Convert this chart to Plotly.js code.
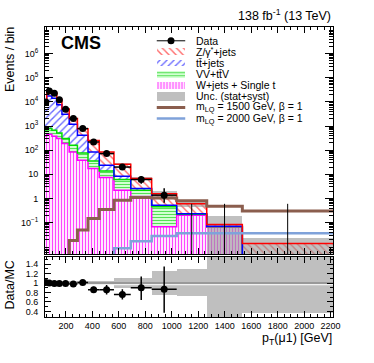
<!DOCTYPE html>
<html><head><meta charset="utf-8">
<script src="https://cdn.plot.ly/plotly-3.0.1.min.js"></script>
<style>html,body{margin:0;padding:0;background:#fff}#chart{width:374px;height:363px}</style>
</head><body><div id="chart"></div>
<script>
// ---- data ----
const binEdges = [42, 55, 94, 131, 170, 225, 287, 367, 452, 563, 690, 848, 1037, 1264, 1533, 2218];
const dataCounts = [9800, 28000, 23000, 12300, 5000, 2030, 785, 218, 72, 20, 6.1, 1.37, 0, 0, 0];
const dataErrUp  = [100, 170, 150, 110, 70, 45, 28, 15, 8.5, 4.5, 2.5, 1.25, 0.6, 0.6, 0.6];
const dataErrDn  = [100, 170, 150, 110, 70, 45, 28, 15, 8.5, 4.5, 2.0, 0.7, 0, 0, 0];
const wjetsSingleT = [394, 454, 375, 301, 187, 84, 38.3, 17.4, 7.4, 2.2, 1.21, 0.067, 0.204, 0.065, 0];
const vvTtv        = [303, 327, 289, 213, 114, 75, 38.3, 18.4, 6.4, 3.9, 0.99, 0.383, 0.02, 0.002, 0];
const ttJets       = [7190, 16900, 13290, 7010, 2740, 1016, 336, 48.5, 10.0, 2.25, 0.39, 0.078, 0.011, 0.003, 0];
const zJets        = [1810, 10300, 9250, 4890, 2010, 895, 364, 169, 60, 17.6, 4.2, 1.04, 0.375, 0.013, 0.0138];
const uncRelUp = [0.04, 0.04, 0.04, 0.04, 0.04, 0.04, 0.04, 0.04, 0.05, 0.1, 0.1, 0.25, 0.29, 1.25, 0.6];
const uncRelDn = [0.04, 0.04, 0.04, 0.04, 0.04, 0.04, 0.04, 0.04, 0.05, 0.1, 0.1, 0.25, 0.28, 0.95, 0.63];
const lq1500 = [0, 0, 0, 0, 0, 0.018, 0.049, 0.149, 0.351, 0.85, 1.1, 1.05, 0.80, 0.48, 0.30];
const lq2000 = [0, 0, 0, 0, 0, 0, 0, 0, 0, 0.0087, 0.017, 0.028, 0.036, 0.036, 0.036];
const ratioVals  = [1.01, 1.0, 0.99, 0.99, 0.99, 0.98, 1.01, 0.86, 0.86, 0.76, 0.90, 0.87];
const ratioErrUp = [0.01, 0.01, 0.01, 0.01, 0.015, 0.02, 0.035, 0.06, 0.1, 0.11, 0.24, 0.48];
const ratioErrDn = [0.01, 0.01, 0.01, 0.01, 0.015, 0.02, 0.035, 0.06, 0.1, 0.11, 0.26, 0.50];
const xRange = [42, 2218];
const legendLabels = ['Data', 'Z/γ<sup>*</sup>+jets', 'tt\u0304+jets', 'VV+tt\u0304V', 'W+jets + Single t',
                      'Unc. (stat+syst)', 'm<sub>LQ</sub> = 1500 GeV, β = 1', 'm<sub>LQ</sub> = 2000 GeV, β = 1'];

// ---- derived ----
const nb = dataCounts.length;
const centers = [], widths = [], halfW = [];
for (let i = 0; i < nb; i++) {
  centers.push((binEdges[i] + binEdges[i+1]) / 2);
  widths.push(binEdges[i+1] - binEdges[i]);
  halfW.push((binEdges[i+1] - binEdges[i]) / 2);
}
const tiny = 1e-5;
const cumW = wjetsSingleT.slice();
const cumV = cumW.map((v, i) => v + vvTtv[i]);
const cumT = cumV.map((v, i) => v + ttJets[i]);
const cumZ = cumT.map((v, i) => v + zJets[i]);
function stepY(arr) { const a = arr.map(v => v > 0 ? v : tiny); a.push(a[a.length-1]); return a; }

const traces = [];
function stackBar(vals, base, pat, name) {
  const t = {type:'bar', x:centers, y:vals, width:widths, xaxis:'x', yaxis:'y', hoverinfo:'skip',
    marker:{color:'white', line:{width:0}, pattern:pat}, name:name};
  if (base) t.base = base;
  return t;
}
const patW = {shape:'|', fgcolor:'#ff44ff', bgcolor:'white', size:3, solidity:0.42, fillmode:'replace'};
const patV = {shape:'-', fgcolor:'#55e055', bgcolor:'#d2ffd2', size:3, solidity:0.35, fillmode:'replace'};
const patT = {shape:'/', fgcolor:'#6a6aff', bgcolor:'white', size:5, solidity:0.28, fillmode:'replace'};
const patZ = {shape:'\\', fgcolor:'#ff6a6a', bgcolor:'white', size:5, solidity:0.28, fillmode:'replace'};
traces.push(stackBar(wjetsSingleT, null, patW, 'W'));
traces.push(stackBar(vvTtv, cumW, patV, 'VV'));
traces.push(stackBar(ttJets, cumV, patT, 'tt'));
traces.push(stackBar(zJets, cumT, patZ, 'Z'));
// uncertainty band
traces.push({type:'bar', x:centers, width:widths, xaxis:'x', yaxis:'y', hoverinfo:'skip',
  base: cumZ.map((v,i)=>v*(1-uncRelDn[i])), y: cumZ.map((v,i)=>v*(uncRelUp[i]+uncRelDn[i])),
  marker:{color:'rgba(150,150,150,0.6)', line:{width:0}}});
// outlines
const outl = [[cumW,'#ff00ff'],[cumV,'#00dd00'],[cumT,'#0000ff'],[cumZ,'#ff0000']];
outl.forEach(o => traces.push({type:'scatter', mode:'lines', x:binEdges, y:stepY(o[0]), xaxis:'x', yaxis:'y',
  line:{shape:'hv', color:o[1], width:1.5}, hoverinfo:'skip'}));
// signals
traces.push({type:'scatter', mode:'lines', x:binEdges, y:stepY(lq1500), xaxis:'x', yaxis:'y',
  line:{shape:'hv', color:'#8b5e4e', width:3}, hoverinfo:'skip'});
traces.push({type:'scatter', mode:'lines', x:binEdges, y:stepY(lq2000), xaxis:'x', yaxis:'y',
  line:{shape:'hv', color:'#7fa2da', width:2.5}, hoverinfo:'skip'});
// data
const dIdx = dataCounts.map((v,i)=>i).filter(i=>dataCounts[i]>0);
traces.push({type:'scatter', mode:'markers', xaxis:'x', yaxis:'y',
  x:dIdx.map(i=>centers[i]), y:dIdx.map(i=>dataCounts[i]),
  marker:{color:'black', size:7},
  error_x:{type:'data', array:dIdx.map(i=>halfW[i]), color:'black', thickness:1.5, width:0},
  error_y:{type:'data', array:dIdx.map(i=>dataErrUp[i]), arrayminus:dIdx.map(i=>dataErrDn[i]), color:'black', thickness:1.5, width:0},
  hoverinfo:'skip'});
// zero-count bins: upper error only
const zx = [], zy = [];
dataCounts.forEach((v,i)=>{ if (v<=0) { zx.push(centers[i], centers[i], null); zy.push(tiny, dataErrUp[i], null); } });
traces.push({type:'scatter', mode:'lines', x:zx, y:zy, xaxis:'x', yaxis:'y', line:{color:'black', width:1}, hoverinfo:'skip'});

// ratio band
traces.push({type:'bar', x:centers, width:widths, xaxis:'x2', yaxis:'y2', hoverinfo:'skip',
  base: uncRelDn.map(d=>1-d), y: uncRelDn.map((d,i)=>d+uncRelUp[i]),
  marker:{color:'#bfbfbf', line:{width:0}}});
traces.push({type:'scatter', mode:'lines', x:xRange, y:[0.965,0.965], xaxis:'x2', yaxis:'y2', line:{color:'white', width:1}, hoverinfo:'skip'});
traces.push({type:'scatter', mode:'lines', x:xRange, y:[1,1], xaxis:'x2', yaxis:'y2', line:{color:'#8c8c8c', width:1.5}, hoverinfo:'skip'});
traces.push({type:'scatter', mode:'markers', xaxis:'x2', yaxis:'y2',
  x:centers.slice(0, ratioVals.length), y:ratioVals, marker:{color:'black', size:7},
  error_x:{type:'data', array:halfW.slice(0, ratioVals.length), color:'black', thickness:1.5, width:0},
  error_y:{type:'data', array:ratioErrUp, arrayminus:ratioErrDn, color:'black', thickness:1.5, width:0},
  hoverinfo:'skip'});

// legend (own hidden axes)
traces.push({type:'scatter', mode:'lines', x:[0,1], y:[0,0], xaxis:'x3', yaxis:'y3', line:{color:'black', width:1}, hoverinfo:'skip'});
traces.push({type:'scatter', mode:'markers', x:[0.5], y:[0], xaxis:'x3', yaxis:'y3', marker:{color:'black', size:7}, hoverinfo:'skip'});
[[1,patZ],[2,patT],[3,patV],[4,patW]].forEach(r => traces.push({type:'bar', orientation:'h', y:[r[0]], x:[1], base:[0], width:0.62,
  xaxis:'x3', yaxis:'y3', marker:{color:'white', line:{width:0}, pattern:r[1]}, hoverinfo:'skip'}));
traces.push({type:'bar', orientation:'h', y:[5], x:[1], base:[0], width:0.8, xaxis:'x3', yaxis:'y3', marker:{color:'#bfbfbf', line:{width:0}}, hoverinfo:'skip'});
traces.push({type:'scatter', mode:'lines', x:[0,1], y:[6,6], xaxis:'x3', yaxis:'y3', line:{color:'#8b5e4e', width:3}, hoverinfo:'skip'});
traces.push({type:'scatter', mode:'lines', x:[0,1], y:[7,7], xaxis:'x3', yaxis:'y3', line:{color:'#7fa2da', width:2.5}, hoverinfo:'skip'});

const annotations = legendLabels.map((t,i)=>({text:t, xref:'paper', yref:'y3', x:0.5174, y:i, xanchor:'left', yanchor:'middle',
  showarrow:false, font:{size:10.5}}));
annotations.push({text:'<b>CMS</b>', xref:'paper', yref:'paper', x:(59-45)/288, y:(317-43.5)/290, xanchor:'left', yanchor:'middle', showarrow:false, font:{size:18}});
annotations.push({text:'138 fb<sup>-1</sup> (13 TeV)', xref:'paper', yref:'paper', x:1.0, y:(317-15)/290, xanchor:'right', yanchor:'middle', showarrow:false, font:{size:12.5}});
annotations.push({text:'Events / bin', xref:'paper', yref:'paper', x:(9.5-45)/288, y:(317-25)/290, xanchor:'center', yanchor:'top', textangle:-90, showarrow:false, font:{size:12.5}});
annotations.push({text:'Data/MC', xref:'paper', yref:'paper', x:(9.5-45)/288, y:(317-285)/290, xanchor:'center', yanchor:'middle', textangle:-90, showarrow:false, font:{size:12.5}});
annotations.push({text:'p<sub>T</sub>(μ1) [GeV]', xref:'paper', yref:'paper', x:1.005, y:(317-339)/290, xanchor:'right', yanchor:'middle', showarrow:false, font:{size:12.5}});

const decVals = [0.1,1,10,100,1e3,1e4,1e5,1e6];
const decText = ['10<sup>−1</sup>','1','10','10<sup>2</sup>','10<sup>3</sup>','10<sup>4</sup>','10<sup>5</sup>','10<sup>6</sup>'];
const minorLog = [];
for (let d=-3; d<=7; d++) for (let m=2; m<=9; m++) minorLog.push(m*Math.pow(10,d));

const common = {ticks:'inside', mirror:'allticks', showline:true, linecolor:'black', linewidth:1, showgrid:false, zeroline:false, tickcolor:'black', tickwidth:1};
const layout = {
  width:374, height:363, margin:{l:45, r:41, t:27, b:46},
  paper_bgcolor:'white', plot_bgcolor:'rgba(0,0,0,0)', showlegend:false, barmode:'overlay', bargap:0,
  font:{family:'Liberation Sans, Arial, Helvetica, sans-serif', size:9, color:'black'},
  xaxis:Object.assign({}, common, {domain:[0,1], anchor:'y', range:xRange, showticklabels:false, tick0:0, dtick:200, ticklen:6,
    minor:{ticks:'inside', ticklen:3, tick0:0, dtick:50, tickcolor:'black'}}),
  yaxis:Object.assign({}, common, {domain:[0.2172,1], anchor:'x', type:'log', range:[-2.3,7.1], tickmode:'array', tickvals:decVals, ticktext:decText,
    ticklen:8, ticklabelstandoff:4, tickfont:{size:9}, minor:{ticks:'inside', ticklen:4, tickmode:'array', tickvals:minorLog, tickcolor:'black'}}),
  xaxis2:Object.assign({}, common, {domain:[0,1], anchor:'y2', range:xRange, tick0:0, dtick:200, ticklen:6, tickfont:{size:9},
    minor:{ticks:'inside', ticklen:3, tick0:0, dtick:50, tickcolor:'black'}}),
  yaxis2:Object.assign({}, common, {domain:[0,0.208], anchor:'x2', range:[0.28,1.56], tickmode:'array', tickvals:[0.4,0.6,0.8,1,1.2,1.4],
    ticktext:['0.4','0.6','0.8','1','1.2','1.4'], ticklen:6, ticklabelstandoff:4, tickfont:{size:9},
    minor:{ticks:'inside', ticklen:3, tick0:0, dtick:0.1, tickcolor:'black'}}),
  xaxis3:{domain:[0.3872,0.4878], anchor:'y3', range:[0,1], visible:false, fixedrange:true},
  yaxis3:{domain:[0.6653,0.9716], anchor:'x3', range:[7.5,-0.5], visible:false, fixedrange:true},
  annotations:annotations
};
Plotly.newPlot('chart', traces, layout, {staticPlot:true, displayModeBar:false});
</script></body></html>
